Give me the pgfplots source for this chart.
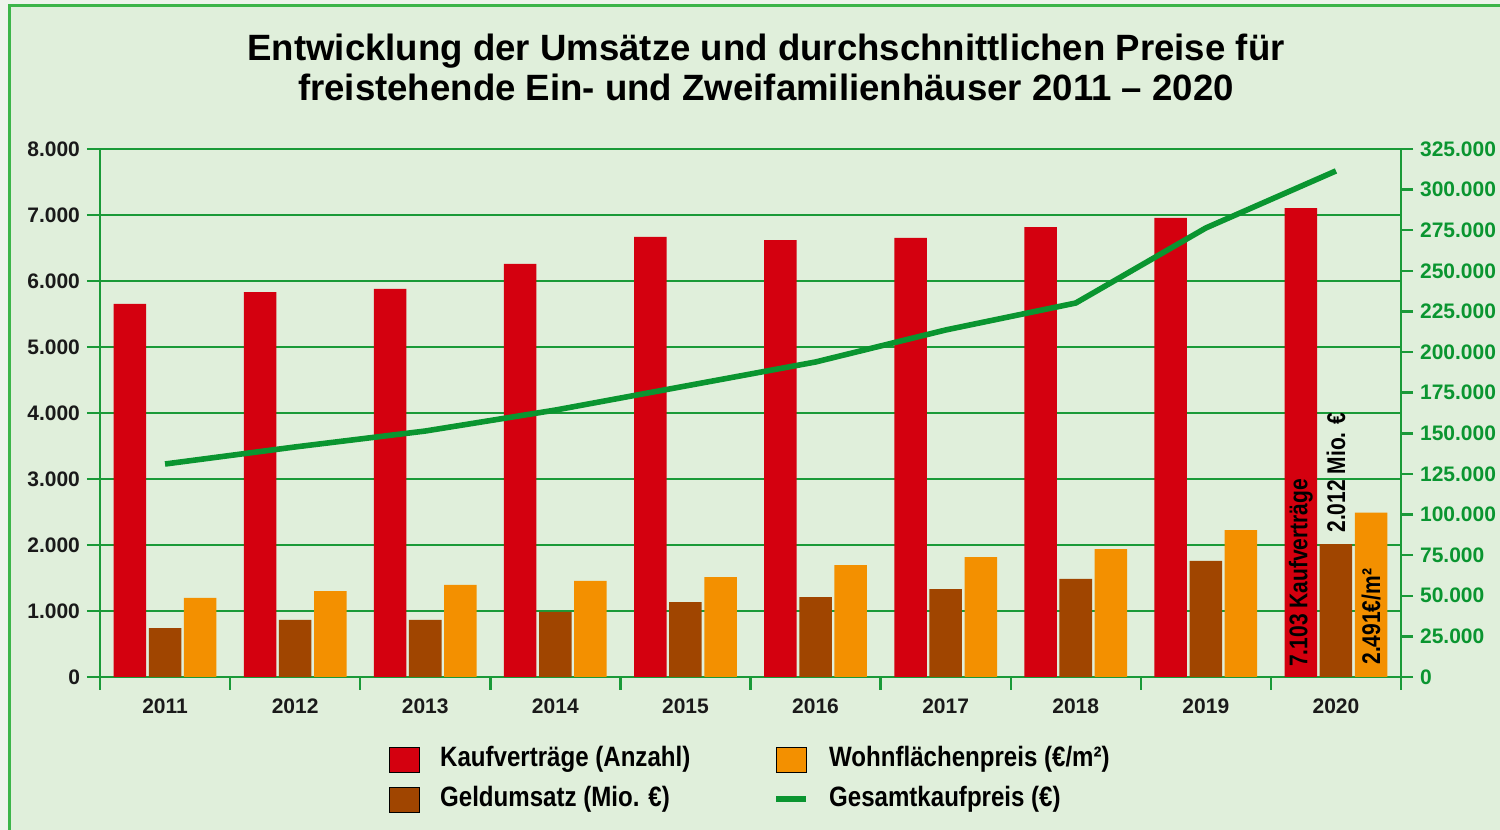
\documentclass[border=0pt]{standalone}
\usepackage{pgfplots}
\pgfplotsset{compat=1.18}
\usepackage{fontspec}
\setmainfont{Liberation Sans}
\newfontfamily\narrowfont[FakeStretch=0.82]{Liberation Sans}
\newfontfamily\legfont[FakeStretch=0.86]{Liberation Sans}

\definecolor{barred}{HTML}{D4000F}
\definecolor{barbrown}{HTML}{A04500}
\definecolor{barorange}{HTML}{F39000}
\definecolor{linegreen}{HTML}{0A9530}
\definecolor{gridgreen}{HTML}{1A9A38}
\definecolor{bordergreen}{HTML}{3DB54A}
\definecolor{bg}{HTML}{E0EFDB}
\definecolor{outerbg}{HTML}{EEF4EC}
\definecolor{ticktext}{HTML}{1A1A1A}

\pgfplotsset{
  sqleg/.style={legend image code/.code={\fill[##1] (0pt,-6.25pt) rectangle (15pt,6.25pt);}},
  lineleg/.style={legend image code/.code={\draw[##1] (0pt,0pt) -- (15pt,0pt);}},
}

\begin{document}
\begin{tikzpicture}
\path[use as bounding box] (-50pt,-76.5pt) rectangle (700pt,338.5pt);
\fill[outerbg] (-50pt,-76.5pt) rectangle (700pt,338.5pt);
\fill[bg] (-45.25pt,-76.5pt) rectangle (700pt,335.75pt);
\draw[bordergreen, line width=1.3pt] (-45.25pt,-76.5pt) -- (-45.25pt,335.75pt) -- (700pt,335.75pt);

\node[align=center, font=\bfseries\fontsize{18.3}{20}\selectfont, text=black] at (333pt,305pt)
  {Entwicklung der Umsätze und durchschnittlichen Preise für\\freistehende Ein- und Zweifamilienhäuser 2011 \textendash{} 2020};

\begin{axis}[
  at={(0pt,0pt)}, anchor=south west, scale only axis,
  width=650.5pt, height=264pt,
  xmin=-0.5, xmax=9.5, ymin=0, ymax=8000,
  axis y line*=left, axis x line*=bottom,
  axis line style={-, gridgreen, line width=1.2pt},
  xtick={-0.5,0.5,...,9.5},
  xticklabels={2011,2012,2013,2014,2015,2016,2017,2018,2019,2020},
  x tick label as interval,
  ytick={0,1000,...,8000},
  tick align=outside, major tick length=6.5pt,
  tick style={gridgreen, line width=1.2pt},
  ymajorgrids, grid style={gridgreen, line width=1pt},
  scaled y ticks=false,
  /pgf/number format/.cd, fixed, 1000 sep={.}, assume math mode=true, /pgfplots/.cd,
  ticklabel style={font=\bfseries\fontsize{10.5}{12}\selectfont, text=ticktext},
  xticklabel style={yshift=-1pt},
]
\addplot[ybar, bar width=0.25, bar shift=-0.27, fill=barred, draw=none] coordinates {
 (0,5652) (1,5833) (2,5879) (3,6258) (4,6667) (5,6621) (6,6652) (7,6818) (8,6955) (9,7103)};
\addplot[ybar, bar width=0.25, bar shift=0, fill=barbrown, draw=none] coordinates {
 (0,742) (1,864) (2,864) (3,985) (4,1136) (5,1212) (6,1333) (7,1485) (8,1758) (9,2012)};
\addplot[ybar, bar width=0.25, bar shift=0.27, fill=barorange, draw=none] coordinates {
 (0,1197) (1,1303) (2,1394) (3,1455) (4,1515) (5,1697) (6,1818) (7,1939) (8,2227) (9,2491)};
\node[rotate=90, anchor=west, inner sep=0pt, font=\narrowfont\bfseries\fontsize{12.8}{14}\selectfont] at (axis cs:8.73,150) {7.103 Kaufverträge};
\node[rotate=90, anchor=west, inner sep=0pt, font=\narrowfont\bfseries\fontsize{12.8}{14}\selectfont] at (axis cs:9,2182) {2.012 Mio. €};
\node[rotate=90, anchor=west, inner sep=0pt, font=\narrowfont\bfseries\fontsize{12.8}{14}\selectfont] at (axis cs:9.27,182) {2.491€/m²};
\end{axis}

\begin{axis}[
  at={(0pt,0pt)}, anchor=south west, scale only axis,
  width=650.5pt, height=264pt,
  xmin=-0.5, xmax=9.5, ymin=0, ymax=325000,
  axis y line*=right, axis x line=none,
  axis line style={-, gridgreen, line width=1.2pt},
  ytick={0,25000,...,325000},
  tick align=outside, major tick length=6pt,
  tick style={gridgreen, line width=1.2pt},
  scaled y ticks=false,
  /pgf/number format/.cd, fixed, 1000 sep={.}, assume math mode=true, /pgfplots/.cd,
  yticklabel style={font=\bfseries\fontsize{10.5}{12}\selectfont, text=linegreen},
  legend columns=2,
  legend style={draw=none, fill=none, at={(0.2175,-0.1223)}, anchor=north west,
    font=\legfont\bfseries\fontsize{14}{16}\selectfont,
    nodes={inner sep=0pt, text height=10.5pt, text depth=3pt},
    row sep=6.5pt,
    /tikz/every odd column/.append style={column sep=10pt}},
  legend cell align=left,
]
\addplot[linegreen, line width=2.8pt, forget plot] coordinates {
 (0,131100) (1,141600) (2,151400) (3,164300) (4,179100) (5,193900) (6,213600) (7,230200) (8,276400) (9,311500)};
\addlegendimage{sqleg, fill=barred}
\addlegendentry{\makebox[166.5pt][l]{Kaufverträge (Anzahl)}}
\addlegendimage{sqleg, fill=barorange}
\addlegendentry{Wohnflächenpreis (€/m²)}
\addlegendimage{sqleg, fill=barbrown}
\addlegendentry{\makebox[166.5pt][l]{Geldumsatz (Mio. €)}}
\addlegendimage{lineleg, linegreen, line width=3pt}
\addlegendentry{Gesamtkaufpreis (€)}
\end{axis}
\end{tikzpicture}
\end{document}
